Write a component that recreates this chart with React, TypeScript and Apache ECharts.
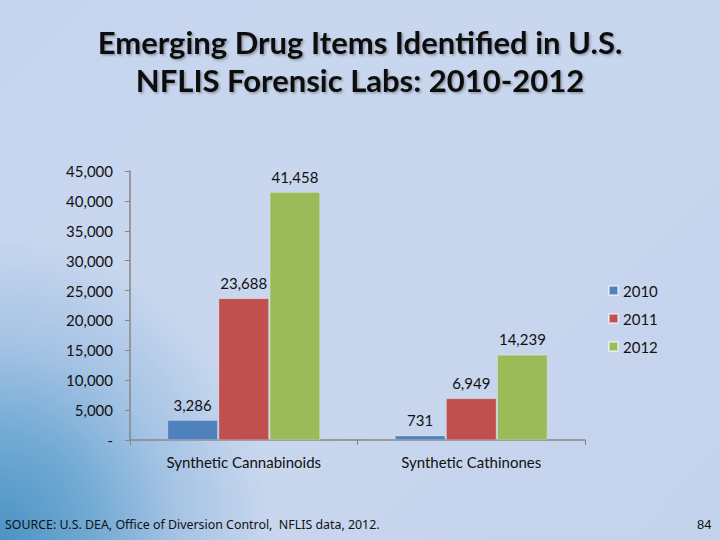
import React, { useEffect, useRef } from "react";
import * as echarts from "echarts";

const categories = ["Synthetic Cannabinoids", "Synthetic Cathinones"];
const seriesNames = ["2010", "2011", "2012"];
const values2010 = [3286, 731];
const values2011 = [23688, 6949];
const values2012 = [41458, 14239];
const colors = ["#4f81bd", "#c0504d", "#9bbb59"];
const titleLines = ["Emerging Drug Items Identified in U.S.", "NFLIS Forensic Labs: 2010-2012"];

const fmt = (v: number) => (v === 0 ? "-" : v.toLocaleString("en-US"));

export default function App() {
  const ref = useRef<HTMLDivElement>(null);
  useEffect(() => {
    if (!ref.current) return;
    const chart = echarts.init(ref.current, undefined, { renderer: "svg" });
    const font = "Lato, 'Noto Sans', sans-serif";
    const data = [values2010, values2011, values2012];
    const titleStyle = {
      fontFamily: font,
      fontSize: 31,
      fontWeight: "bold",
      color: "#111",
      textShadowColor: "rgba(0,0,0,0.3)",
      textShadowBlur: 2,
      textShadowOffsetX: 1.5,
      textShadowOffsetY: 1.5,
    };
    chart.setOption({
      animation: false,
      textStyle: { fontFamily: font },
      title: titleLines.map((t, i) => ({
        text: t,
        left: "center",
        top: 26 + i * 38,
        padding: 0,
        textStyle: titleStyle,
      })),
      legend: {
        orient: "vertical",
        left: 603,
        top: 278,
        icon: "rect",
        itemWidth: 9,
        itemHeight: 9,
        itemGap: 13,
        data: seriesNames,
        textStyle: { fontFamily: font, fontSize: 15, color: "#111" },
      },
      grid: { left: 130, right: 135, top: 171, bottom: 100 },
      xAxis: {
        type: "category",
        data: categories,
        axisLine: { lineStyle: { color: "#868686", width: 1.5 } },
        axisTick: { show: true, length: 5, lineStyle: { color: "#868686" } },
        axisLabel: { fontFamily: font, fontSize: 15, color: "#111", margin: 14 },
      },
      yAxis: {
        type: "value",
        min: 0,
        max: 45000,
        interval: 5000,
        splitLine: { show: false },
        axisLine: { show: true, lineStyle: { color: "#868686", width: 1.5 } },
        axisTick: { show: true, length: 5, lineStyle: { color: "#868686" } },
        axisLabel: {
          fontFamily: font,
          fontSize: 15,
          color: "#111",
          margin: 17,
          formatter: (v: number) => fmt(v),
        },
      },
      series: seriesNames.map((name, i) => ({
        name,
        type: "bar",
        data: data[i],
        barGap: "2%",
        barCategoryGap: "33%",
        itemStyle: { color: colors[i], borderColor: "rgba(255,255,255,0.5)", borderWidth: 0.5 },
        label: {
          show: true,
          position: "top",
          distance: 8,
          fontFamily: font,
          fontSize: 15,
          color: "#111",
          formatter: (p: any) => fmt(p.value),
        },
      })),
      graphic: [
        {
          type: "text",
          left: 5,
          top: 518,
          style: {
            text: "SOURCE: U.S. DEA, Office of Diversion Control,  NFLIS data, 2012.",
            font: "12.4px 'Liberation Sans Narrow', 'Noto Sans', sans-serif",
            fill: "#111",
          },
        },
        {
          type: "text",
          left: 697,
          top: 518,
          style: { text: "84", font: "13px 'Liberation Sans Narrow', sans-serif", fill: "#111" },
        },
      ],
    });
    return () => chart.dispose();
  }, []);
  return (
    <div
      style={{
        position: "absolute",
        left: 0,
        top: 0,
        width: 720,
        height: 540,
        background:
          "radial-gradient(ellipse 270px 300px at 0% 100%, #4a93c4 0%, #72aad4 35%, #a4c3e4 65%, rgba(197,213,236,0) 100%), linear-gradient(135deg, #c6d4ee 0%, #c9d7ee 50%, #c3d3ec 100%)",
      }}
    >
      <div ref={ref} style={{ width: 720, height: 540 }} />
    </div>
  );
}
